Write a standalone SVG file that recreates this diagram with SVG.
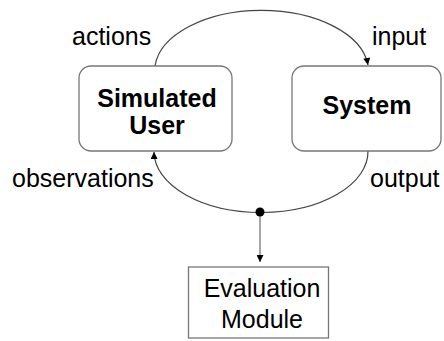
<svg xmlns="http://www.w3.org/2000/svg" width="444" height="341" viewBox="0 0 444 341">
<style>
.box{fill:#fff;stroke:#777;stroke-width:1.3}
.lbl{font-family:"Liberation Sans",Arial,sans-serif;font-size:25px;fill:#000}
.b{font-weight:bold;text-anchor:middle}
.m{text-anchor:middle}
.arc{fill:none;stroke:#444;stroke-width:1.2}
</style>
<defs>
<marker id="ah" viewBox="0 0 10 10" refX="10" refY="5" markerWidth="8" markerHeight="7" markerUnits="userSpaceOnUse" orient="auto">
<path d="M0,0 L10,5 L0,10 Z" fill="#000"/>
</marker>
</defs>
<g id="connectors">
<path class="arc" d="M155,66 A107,61 0 0 1 368,65" marker-end="url(#ah)"/>
<path class="arc" d="M368,151 A107,61 0 0 1 154,152" marker-end="url(#ah)"/>
<line x1="260" y1="212" x2="260" y2="262" stroke="#777" stroke-width="1.3" marker-end="url(#ah)"/>
<circle cx="260" cy="212" r="4.5" fill="#000"/>
<text class="lbl" x="72" y="45">actions</text>
<text class="lbl" x="372" y="45">input</text>
<text class="lbl" x="12" y="187">observations</text>
<text class="lbl" x="370" y="187">output</text>
</g>
<g id="simulated-user">
<rect class="box" x="79" y="66" width="153" height="85" rx="12"/>
<text class="lbl b" x="157" y="107">Simulated</text>
<text class="lbl b" x="157" y="134">User</text>
</g>
<g id="system">
<rect class="box" x="292" y="66" width="149" height="85" rx="12"/>
<text class="lbl b" x="367" y="114">System</text>
</g>
<g id="evaluation-module">
<rect class="box" x="188.5" y="267" width="140" height="71"/>
<text class="lbl m" x="262" y="297">Evaluation</text>
<text class="lbl m" x="262" y="328">Module</text>
</g>
</svg>
